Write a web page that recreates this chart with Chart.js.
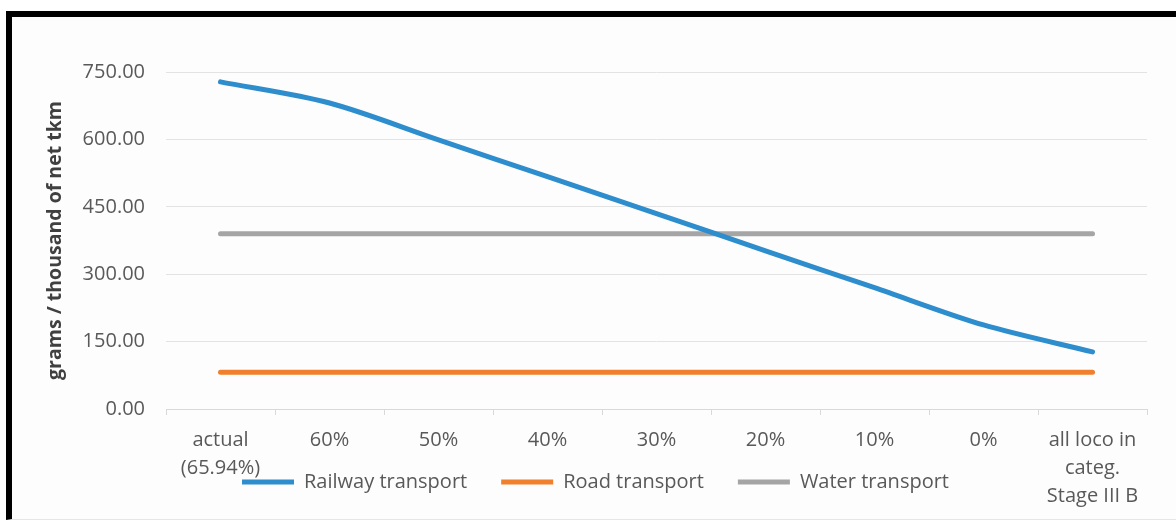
<!DOCTYPE html>
<html>
<head>
<meta charset="utf-8">
<title>Emissions by transport mode</title>
<script src="https://cdn.jsdelivr.net/npm/chart.js@4.4.1/dist/chart.umd.min.js"></script>
<style>
  html, body { margin: 0; padding: 0; background: #fff; }
  body { width: 1176px; height: 520px; position: relative; overflow: hidden; }
  .frame {
    position: absolute; left: 6px; top: 11px; width: 1164px; height: 502px;
    border-top: 6px solid #000; border-left: 6px solid #000;
    border-right: 1px solid #e6e6e6; border-bottom: 1px solid #e6e6e6;
    background: #fdfdfd;
  }
  #chartBox { position: absolute; left: 0; top: 0; width: 1176px; height: 520px; }
</style>
</head>
<body>
<div class="frame"></div>
<div id="chartBox"><canvas id="transportChart"></canvas></div>
<script>
/* Share of locomotives by emission category and resulting grams per thousand net tkm */

const categories = [
  ["actual", "(65.94%)"], "60%", "50%", "40%", "30%", "20%", "10%", "0%",
  ["all loco in", "categ.", "Stage III B"]
];
const railway = [728, 681, 599, 517, 435, 352, 270, 187, 127];
const road = [82, 82, 82, 82, 82, 82, 82, 82, 82];
const water = [390, 390, 390, 390, 390, 390, 390, 390, 390];
const yTicks = [0, 150, 300, 450, 600, 750];

const textColor = "#595959";
const font = "'Open Sans', 'DejaVu Sans', sans-serif";

function line(label, data, color) {
  return {
    label: label,
    data: data,
    borderColor: color,
    backgroundColor: color,
    borderWidth: 5,
    borderCapStyle: 'round',
    pointRadius: 0,
    tension: 0.3,
    fill: false
  };
}

// the x axis is kept short so the legend sits among the category labels;
// widen its clip box after layout so the multi-line labels are not cut off
const xLabelOverflow = {
  id: 'xLabelOverflow',
  afterLayout: function (chart) {
    chart.scales.x.bottom = chart.height;
  }
};

new Chart(document.getElementById("transportChart"), {
  type: 'line',
  data: {
    labels: categories,
    datasets: [
      line("Railway transport", railway, "#2e8dcc"),
      line("Road transport", road, "#f07f2e"),
      line("Water transport", water, "#a5a5a5")
    ]
  },
  plugins: [xLabelOverflow],
  options: {
    responsive: true,
    maintainAspectRatio: false,
    animation: false,
    layout: {
      padding: { left: 44, right: 29, top: 72, bottom: 18 }
    },
    plugins: {
      tooltip: { enabled: false },
      legend: {
        position: 'bottom',
        labels: {
          color: textColor,
          font: { family: font, size: 20 },
          boxWidth: 52,
          boxHeight: 5,
          padding: 34,
          generateLabels: function (chart) {
            return Chart.defaults.plugins.legend.labels.generateLabels(chart).map(function (item) {
              item.lineWidth = 0;
              return item;
            });
          }
        }
      }
    },
    scales: {
      x: {
        offset: true,
        grid: {
          offset: true,
          drawOnChartArea: false,
          color: "#d9d9d9",
          tickLength: 6
        },
        border: { color: "#d9d9d9" },
        ticks: {
          color: textColor,
          font: { family: font, size: 20, lineHeight: 1.4 },
          padding: 11,
          maxRotation: 0,
          autoSkip: false
        },
        afterFit: function (scale) { scale.height = 29; }
      },
      y: {
        min: 0,
        max: 750,
        grid: { color: "#e3e3e3", drawTicks: false },
        border: { display: false },
        afterBuildTicks: function (scale) {
          scale.ticks = yTicks.map(function (v) { return { value: v }; });
        },
        ticks: {
          color: textColor,
          font: { family: font, size: 20 },
          padding: 21,
          callback: function (v) { return Number(v).toFixed(2); }
        },
        title: {
          display: true,
          text: "grams / thousand of net tkm",
          color: "#404040",
          font: { family: font, size: 19.5, weight: 'bold' },
          padding: { top: 0, bottom: 0 }
        },
        afterFit: function (scale) { scale.width = 122; }
      }
    }
  }
});
</script>
</body>
</html>
